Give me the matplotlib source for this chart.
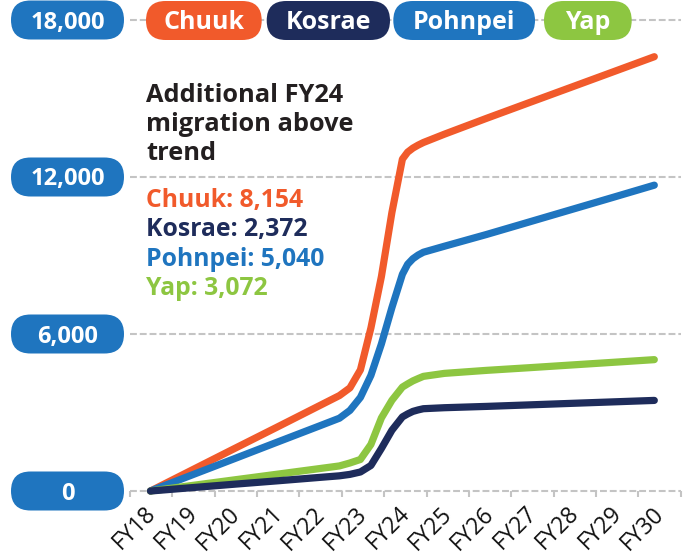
import numpy as np
import matplotlib
matplotlib.use("Agg")
import matplotlib.pyplot as plt
import matplotlib.transforms as mtransforms
from matplotlib.patches import FancyBboxPatch

plt.rcParams['font.family'] = ['Open Sans', 'DejaVu Sans']

# values (extra readings around the FY23-FY24 jump)
fiscal_year = [18, 19, 20, 21, 22, 22.5, 22.75, 23, 23.25, 23.5, 23.75, 24, 24.125, 24.25,
               24.375, 24.5, 25, 26, 27, 28, 29, 30]
chuuk = [0, 811, 1622, 2429, 3241, 3647, 3941, 4629, 6232, 8195, 10644, 12683, 12951, 13104,
         13219, 13318, 13636, 14240, 14830, 15418, 16007, 16597]
pohnpei = [0, 620, 1236, 1856, 2472, 2782, 3080, 3577, 4419, 5620, 7009, 8283, 8666, 8876,
           9018, 9125, 9354, 9802, 10272, 10743, 11214, 11688]
yap = [0, 213, 426, 638, 851, 958, 1071, 1205, 1779, 2793, 3466, 3971, 4094, 4208,
       4297, 4381, 4495, 4610, 4710, 4813, 4916, 5020]
kosrae = [0, 130, 260, 386, 516, 580, 635, 727, 976, 1626, 2322, 2831, 2946, 3042,
          3099, 3145, 3183, 3233, 3290, 3348, 3405, 3462]

fy_labels = ['FY18', 'FY19', 'FY20', 'FY21', 'FY22', 'FY23', 'FY24',
             'FY25', 'FY26', 'FY27', 'FY28', 'FY29', 'FY30']
y_ticks = [0, 6000, 12000, 18000]
y_tick_labels = ['0', '6,000', '12,000', '18,000']

states = ['Chuuk', 'Kosrae', 'Pohnpei', 'Yap']
above_trend = ['8,154', '2,372', '5,040', '3,072']
colors = {'Chuuk': '#F15A2B', 'Kosrae': '#1E2C5B', 'Pohnpei': '#1F75BF', 'Yap': '#8DC641'}
series = {'Chuuk': chuuk, 'Kosrae': kosrae, 'Pohnpei': pohnpei, 'Yap': yap}

W, H = 689, 554
fig = plt.figure(figsize=(W / 100, H / 100), dpi=100)


def px_rect(x0, x1, y_top, y_bot):
    return [x0 / W, 1 - y_bot / H, (x1 - x0) / W, (y_bot - y_top) / H]


rect = px_rect(130, 680.7, 20, 491)

# grid, ticks and labels (band axis)
axg = fig.add_axes(rect)
axg.set_xlim(-0.5, len(fy_labels) - 0.5)
axg.set_ylim(0, 18000)
axg.set_yticks(y_ticks)
axg.tick_params(axis='y', length=0, labelleft=False)
axg.grid(axis='y', color='#c4c4c4', lw=1.5, ls=(0, (3.3, 1.4)))
for gl in axg.get_ygridlines():
    gl.set_clip_on(False)
axg.set_xticks(np.arange(len(fy_labels)))
axg.set_xticks(np.arange(len(fy_labels) + 1) - 0.5, minor=True)
axg.set_xticklabels(fy_labels, rotation=45, ha='right', va='baseline',
                    rotation_mode='anchor', fontsize=16.5, color='#111111')
axg.tick_params(axis='x', which='minor', length=4, width=1.5, color='#c4c4c4')
axg.tick_params(axis='x', which='major', length=0, pad=17)
offset = mtransforms.ScaledTranslation(5 / 100, 0, fig.dpi_scale_trans)
for lbl in axg.get_xticklabels():
    lbl.set_transform(lbl.get_transform() + offset)
for s in axg.spines.values():
    s.set_visible(False)
axg.patch.set_visible(False)

# lines
ax = fig.add_axes(rect, zorder=3)
px_per_year = (654.3 - 150.5) / 12
ax.set_xlim(18 - (150.5 - 130) / px_per_year, 30 + (680.7 - 654.3) / px_per_year)
ax.set_ylim(0, 18000)
ax.axis('off')
for name in ['Chuuk', 'Pohnpei', 'Yap', 'Kosrae']:
    ax.plot(fiscal_year, series[name], color=colors[name], lw=5.2,
            solid_capstyle='round', solid_joinstyle='round', clip_on=False)

# overlay in pixel units for pills and text
ov = fig.add_axes([0, 0, 1, 1], zorder=5)
ov.set_xlim(0, W)
ov.set_ylim(H, 0)
ov.axis('off')


def pill(x0, x1, yc, h, color):
    ov.add_patch(FancyBboxPatch((x0, yc - h / 2), x1 - x0, h,
                                boxstyle=f"round,pad=0,rounding_size={h / 2}",
                                fc=color, ec='none'))


for v, lab in zip(y_ticks, y_tick_labels):
    yc = H - axg.transData.transform((0, v))[1]
    pill(11, 124, yc, 39, '#1F75BF')
    ov.text(67.5, yc + 8.5, lab, ha='center', va='baseline', color='white',
            fontsize=17, fontweight='bold')

legend_boxes = [(146, 261.7), (266.7, 390), (393.3, 535), (544, 631.7)]
for name, (x0, x1) in zip(states, legend_boxes):
    pill(x0, x1, 20.5, 39, colors[name])
    ov.text((x0 + x1) / 2, 29.3, name, ha='center', va='baseline', color='white',
            fontsize=18, fontweight='bold')

title_lines = ['Additional FY24', 'migration above', 'trend']
for i, t in enumerate(title_lines):
    ov.text(146, 101.7 + 29.2 * i, t, ha='left', va='baseline', color='#231F20',
            fontsize=18.3, fontweight='bold')
for i, (name, val) in enumerate(zip(states, above_trend)):
    ov.text(146, 206.7 + 29.5 * i, f"{name}: {val}", ha='left', va='baseline',
            color=colors[name], fontsize=17.8, fontweight='bold')

fig.savefig('out.png', dpi=100)
